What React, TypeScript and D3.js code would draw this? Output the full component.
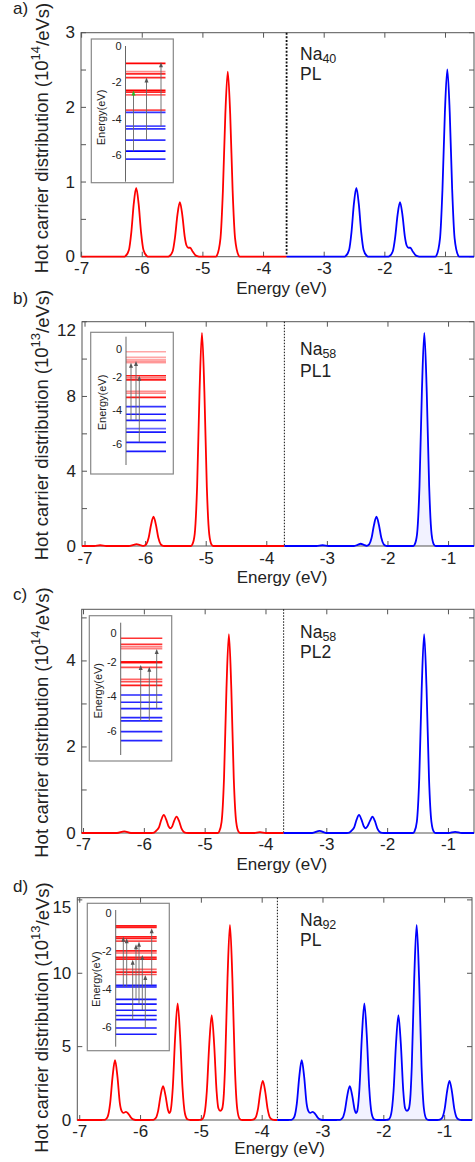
import React from 'react';
import * as d3 from 'd3';

type Pt = [number, number];

// ---------------- DATA ----------------
const panelLetters = ['a)', 'b)', 'c)', 'd)'];
const clusterSizes = ['40', '58', '58', '92'];
const plasmonLabels = ['PL', 'PL1', 'PL2', 'PL'];
const yExponents = ['14', '13', '14', '13'];
const fermiLevels = [-3.62, -3.71, -3.71, -3.75];
const xTickValues = [-7, -6, -5, -4, -3, -2, -1];
const yMajorTicks = [[0, 1, 2, 3], [0, 4, 8, 12], [0, 2, 4], [0, 5, 10, 15]];
const yMinorTicks = [[0.5, 1.5, 2.5], [2, 6, 10], [1, 3, 5], []];
const yMax = [3, 12, 5.2, 15.15];
const xDomains: [number, number][] = [[-7.01, -0.53], [-7.05, -0.58], [-7.03, -0.58], [-7.04, -0.55]];

const holesA: Pt[] = [
  [-7.0, 0], [-6.3, 0], [-6.28, 0.006], [-6.22, 0.09], [-6.18, 0.33], [-6.14, 0.71], [-6.1, 0.92], [-6.06, 0.71], [-6.02, 0.33], [-5.98, 0.09], [-5.92, 0.006], [-5.9, 0],
  [-5.58, 0], [-5.56, 0.004], [-5.5, 0.07], [-5.46, 0.26], [-5.42, 0.56], [-5.38, 0.73], [-5.34, 0.56], [-5.3, 0.27], [-5.27, 0.15], [-5.24, 0.12], [-5.21, 0.12], [-5.17, 0.07], [-5.13, 0.025], [-5.08, 0.003], [-5.05, 0],
  [-4.79, 0], [-4.77, 0.015], [-4.71, 0.25], [-4.67, 0.89], [-4.63, 1.91], [-4.59, 2.48], [-4.55, 1.91], [-4.51, 0.89], [-4.47, 0.25], [-4.41, 0.015], [-4.39, 0], [-3.62, 0],
];
const electronsA: Pt[] = [
  [-3.62, 0], [-2.67, 0], [-2.65, 0.006], [-2.59, 0.09], [-2.55, 0.33], [-2.51, 0.71], [-2.47, 0.92], [-2.43, 0.71], [-2.39, 0.33], [-2.35, 0.09], [-2.29, 0.006], [-2.27, 0],
  [-1.95, 0], [-1.93, 0.004], [-1.87, 0.07], [-1.83, 0.26], [-1.79, 0.56], [-1.75, 0.73], [-1.71, 0.56], [-1.67, 0.27], [-1.64, 0.15], [-1.61, 0.12], [-1.58, 0.12], [-1.54, 0.07], [-1.5, 0.025], [-1.45, 0.003], [-1.42, 0],
  [-1.17, 0], [-1.15, 0.015], [-1.09, 0.25], [-1.05, 0.9], [-1.01, 1.93], [-0.97, 2.51], [-0.93, 1.93], [-0.89, 0.9], [-0.85, 0.25], [-0.79, 0.015], [-0.77, 0], [-0.53, 0],
];

const holesB: Pt[] = [
  [-7.05, 0], [-6.85, 0], [-6.75, 0.04], [-6.65, 0], [-6.28, 0], [-6.2, 0.06], [-6.15, 0.1], [-6.1, 0.06], [-6.05, 0.01], [-6.03, 0.01], [-5.99, 0.09], [-5.95, 0.44], [-5.91, 1.14], [-5.87, 1.57], [-5.83, 1.14], [-5.79, 0.44], [-5.75, 0.09], [-5.71, 0.01], [-5.68, 0],
  [-5.25, 0], [-5.23, 0.07], [-5.19, 0.64], [-5.15, 3.18], [-5.11, 8.27], [-5.07, 11.4], [-5.03, 8.27], [-4.99, 3.18], [-4.95, 0.64], [-4.91, 0.07], [-4.88, 0], [-3.71, 0],
];
const electronsB: Pt[] = [
  [-3.71, 0], [-3.18, 0], [-3.08, 0.04], [-2.98, 0], [-2.56, 0], [-2.5, 0.06], [-2.45, 0.12], [-2.4, 0.06], [-2.36, 0.015], [-2.35, 0.01], [-2.31, 0.09], [-2.27, 0.44], [-2.23, 1.14], [-2.19, 1.57], [-2.15, 1.14], [-2.11, 0.44], [-2.07, 0.09], [-2.03, 0.01], [-2.0, 0],
  [-1.58, 0], [-1.56, 0.07], [-1.52, 0.64], [-1.48, 3.18], [-1.44, 8.27], [-1.4, 11.4], [-1.36, 8.27], [-1.32, 3.18], [-1.28, 0.64], [-1.24, 0.07], [-1.21, 0], [-0.58, 0],
];

const holesC: Pt[] = [
  [-7.03, 0], [-6.45, 0], [-6.33, 0.04], [-6.22, 0], [-5.88, 0], [-5.84, 0.01], [-5.8, 0.06], [-5.76, 0.13], [-5.72, 0.31], [-5.68, 0.42], [-5.64, 0.31], [-5.6, 0.15], [-5.57, 0.11], [-5.54, 0.16], [-5.51, 0.28], [-5.47, 0.38], [-5.43, 0.28], [-5.39, 0.11], [-5.35, 0.025], [-5.31, 0.003], [-5.28, 0],
  [-4.79, 0], [-4.77, 0.03], [-4.73, 0.26], [-4.69, 1.28], [-4.65, 3.35], [-4.61, 4.62], [-4.57, 3.35], [-4.53, 1.28], [-4.49, 0.26], [-4.45, 0.03], [-4.42, 0], [-4.2, 0], [-4.1, 0.02], [-4.0, 0], [-3.71, 0],
];
const electronsC: Pt[] = [
  [-3.71, 0], [-3.24, 0], [-3.12, 0.05], [-3.01, 0], [-2.67, 0], [-2.63, 0.01], [-2.59, 0.06], [-2.55, 0.13], [-2.51, 0.31], [-2.47, 0.42], [-2.43, 0.31], [-2.39, 0.15], [-2.36, 0.11], [-2.33, 0.16], [-2.29, 0.28], [-2.25, 0.38], [-2.21, 0.28], [-2.17, 0.11], [-2.13, 0.025], [-2.09, 0.003], [-2.06, 0],
  [-1.58, 0], [-1.56, 0.03], [-1.52, 0.26], [-1.48, 1.28], [-1.44, 3.35], [-1.4, 4.62], [-1.36, 3.35], [-1.32, 1.28], [-1.28, 0.26], [-1.24, 0.03], [-1.21, 0], [-1.0, 0], [-0.89, 0.025], [-0.78, 0], [-0.58, 0],
];

const holesD: Pt[] = [
  [-7.04, 0], [-6.64, 0], [-6.62, 0.005], [-6.58, 0.024], [-6.54, 0.23], [-6.5, 1.13], [-6.46, 2.96], [-6.42, 4.08], [-6.38, 2.96], [-6.34, 1.13], [-6.31, 0.6], [-6.28, 0.48], [-6.24, 0.56], [-6.2, 0.42], [-6.16, 0.18], [-6.12, 0.04], [-6.08, 0],
  [-5.85, 0], [-5.83, 0.003], [-5.79, 0.014], [-5.75, 0.13], [-5.71, 0.64], [-5.67, 1.68], [-5.63, 2.31], [-5.59, 1.68], [-5.55, 0.7], [-5.53, 0.47], [-5.51, 0.57], [-5.47, 2.2], [-5.43, 5.76], [-5.39, 7.94], [-5.35, 5.76], [-5.31, 2.2], [-5.27, 0.44], [-5.23, 0.05], [-5.18, 0],
  [-5.05, 0], [-5.03, 0.002], [-4.99, 0.04], [-4.95, 0.4], [-4.91, 1.98], [-4.87, 5.18], [-4.83, 7.14], [-4.79, 5.18], [-4.75, 1.98], [-4.72, 0.8], [-4.69, 0.62], [-4.66, 0.75], [-4.63, 1.8], [-4.61, 3.7], [-4.57, 9.66], [-4.53, 13.3], [-4.49, 9.66], [-4.45, 3.7], [-4.41, 0.75], [-4.37, 0.08], [-4.33, 0],
  [-4.19, 0], [-4.15, 0.02], [-4.11, 0.15], [-4.07, 0.74], [-4.03, 1.94], [-3.99, 2.67], [-3.95, 1.94], [-3.91, 0.74], [-3.87, 0.15], [-3.83, 0.02], [-3.79, 0], [-3.75, 0],
];
const electronsD: Pt[] = [
  [-3.75, 0], [-3.57, 0], [-3.55, 0.005], [-3.51, 0.024], [-3.47, 0.23], [-3.43, 1.13], [-3.39, 2.96], [-3.35, 4.08], [-3.31, 2.96], [-3.27, 1.13], [-3.24, 0.6], [-3.21, 0.48], [-3.17, 0.56], [-3.13, 0.42], [-3.09, 0.18], [-3.05, 0.04], [-3.01, 0],
  [-2.78, 0], [-2.76, 0.003], [-2.72, 0.014], [-2.68, 0.13], [-2.64, 0.64], [-2.6, 1.68], [-2.56, 2.31], [-2.52, 1.68], [-2.48, 0.7], [-2.46, 0.47], [-2.44, 0.57], [-2.4, 2.2], [-2.36, 5.76], [-2.32, 7.94], [-2.28, 5.76], [-2.24, 2.2], [-2.2, 0.44], [-2.16, 0.05], [-2.11, 0],
  [-1.98, 0], [-1.96, 0.002], [-1.92, 0.04], [-1.88, 0.4], [-1.84, 1.98], [-1.8, 5.18], [-1.76, 7.14], [-1.72, 5.18], [-1.68, 1.98], [-1.65, 0.8], [-1.62, 0.62], [-1.59, 0.75], [-1.56, 1.8], [-1.54, 3.7], [-1.5, 9.66], [-1.46, 13.3], [-1.42, 9.66], [-1.38, 3.7], [-1.34, 0.75], [-1.3, 0.08], [-1.26, 0],
  [-1.12, 0], [-1.08, 0.02], [-1.04, 0.15], [-1.0, 0.74], [-0.96, 1.94], [-0.92, 2.67], [-0.88, 1.94], [-0.84, 0.74], [-0.8, 0.15], [-0.76, 0.02], [-0.72, 0], [-0.55, 0],
];

const holeSeries = [holesA, holesB, holesC, holesD];
const electronSeries = [electronsA, electronsB, electronsC, electronsD];

// inset energy levels (eV)
const insetTickValues = [0, -2, -4, -6];
const unoccupiedLevels = [
  [-0.96, -1.41, -1.54, -1.74, -2.45, -2.54, -2.69, -3.54],
  [-0.52, -0.85, -1.01, -1.1, -1.17, -1.95, -2.07, -2.2, -2.88, -2.99, -3.23],
  [-0.64, -0.99, -1.13, -1.24, -2.0, -2.05, -2.32, -3.01, -3.15, -3.36],
  [-0.66, -0.73, -1.23, -1.32, -1.46, -1.98, -2.09, -2.32, -2.41, -2.96, -3.1, -3.23],
];
const occupiedLevels = [
  [-3.66, -4.42, -4.57, -5.19, -5.8, -6.24],
  [-3.79, -4.24, -4.6, -5.1, -5.3, -5.91, -6.45],
  [-3.92, -4.34, -4.71, -5.23, -5.42, -6.04, -6.56],
  [-3.8, -3.89, -4.54, -4.8, -5.12, -5.4, -5.62, -6.06, -6.39],
];
// transitions [from, to] (eV)
const transitions: Pt[][] = [
  [[-5.8, -2.45], [-5.19, -1.74], [-4.42, -0.9]],
  [[-4.6, -1.17], [-4.6, -1.07], [-5.91, -1.95]],
  [[-5.42, -2.18], [-5.42, -2.28], [-4.71, -1.26]],
  [[-3.89, -1.23], [-3.89, -1.31], [-5.62, -2.45], [-4.54, -1.63], [-4.8, -1.5], [-5.12, -2.2], [-6.06, -3.25], [-3.8, -0.78]],
];

// ---------------- STYLE / LAYOUT ----------------
const FONT = "'Liberation Sans', Arial, Helvetica, sans-serif";
const redAlpha = [
  [1, 0.45, 0.85, 0.85, 1, 0.85, 0.6, 0.7],
  [0.35, 0.35, 0.35, 0.35, 0.35, 0.9, 0.5, 0.9, 0.45, 0.45, 0.9],
  [0.8, 0.8, 0.5, 0.5, 0.9, 0.9, 0.7, 0.6, 0.7, 0.9],
  [0.9, 0.9, 0.9, 0.9, 0.7, 0.9, 0.6, 0.9, 0.9, 0.6, 0.9, 0.7],
];
const blueAlpha = [
  [0.8, 0.7, 0.8, 0.8, 1, 0.8],
  [0.8, 0.9, 0.9, 0.6, 0.9, 0.9, 0.9],
  [0.85, 0.85, 0.85, 0.85, 0.85, 0.85, 0.85],
  [0.9, 0.9, 0.9, 0.9, 0.9, 0.9, 0.9, 0.9, 0.9],
];
const arrowOffsets = [
  [8, 21, 35.5],
  [5, 10, 13.3],
  [20, 28.6, 36],
  [7.6, 11, 17, 20.3, 23.3, 26.6, 29.6, 36],
];

const LAYOUT = [
  { left: 81, right: 474, top: 32.7, bottom: 256.7, yLabelY: 138, letterY: 14, naY: 60, plY: 80, tickDy: 17.5, xLabelDy: 31.5, topLabelDy: 0, fill: false, dotW: 1.8, dotDash: '2,1.6',
    inset: { x: 91.3, y: 39, w: 82, h: 143.7, axisX: 125.5, axisTop: 46, axisBottom: 181.7, dom: [-7.48, 0], len: 40, labelX: 100.7, labelY: 117.5, zeroDy: 0 } },
  { left: 82, right: 474, top: 321.7, bottom: 546, yLabelY: 425, letterY: 304, naY: 355, plY: 376.7, tickDy: 18, xLabelDy: 31.5, topLabelDy: 8.5, fill: true, dotW: 1, dotDash: '1.5,1.5',
    inset: { x: 90.7, y: 332.3, w: 82.6, h: 141.7, axisX: 126, axisTop: 336.7, axisBottom: 465, dom: [-7.26, 0.375], len: 40, labelX: 101.7, labelY: 402.5, zeroDy: 6 } },
  { left: 81.7, right: 474, top: 609.3, bottom: 833, yLabelY: 722.5, letterY: 599.5, naY: 638.3, plY: 658.3, tickDy: 17, xLabelDy: 31.5, topLabelDy: 0, fill: false, dotW: 1, dotDash: '1.5,1.5',
    inset: { x: 89.3, y: 615.7, w: 82.4, h: 145.3, axisX: 120.7, axisTop: 622.7, axisBottom: 755, dom: [-7.39, 0.26], len: 41.6, labelX: 98.3, labelY: 690.8, zeroDy: 6 } },
  { left: 77.3, right: 472, top: 897.7, bottom: 1120, yLabelY: 1017.5, letterY: 891.5, naY: 926, plY: 946, tickDy: 16.5, xLabelDy: 28.5, topLabelDy: 8, fill: true, dotW: 1, dotDash: '1.5,1.5',
    inset: { x: 87.3, y: 903.3, w: 82, h: 147.4, axisX: 115.7, axisTop: 910, axisBottom: 1046.7, dom: [-7.05, 0.185], len: 41, labelX: 95.7, labelY: 979.2, zeroDy: 0 } },
];

const FRAME = '#555';
const TEXT = '#222';

function Inset({ i }: { i: number }) {
  const L = LAYOUT[i].inset;
  const y = d3.scaleLinear().domain(L.dom).range([L.axisBottom, L.axisTop]);
  return (
    <g>
      <rect x={L.x} y={L.y} width={L.w} height={L.h} fill="#fff" stroke="#888" strokeWidth={1.2} />
      {unoccupiedLevels[i].map((e, k) => (
        <line key={'r' + k} x1={L.axisX} x2={L.axisX + L.len} y1={y(e)} y2={y(e)} stroke="#ff0000" strokeOpacity={redAlpha[i][k]} strokeWidth={1.7} />
      ))}
      {occupiedLevels[i].map((e, k) => (
        <line key={'b' + k} x1={L.axisX} x2={L.axisX + L.len} y1={y(e)} y2={y(e)} stroke="#0000ff" strokeOpacity={blueAlpha[i][k]} strokeWidth={1.7} />
      ))}
      <line x1={L.axisX} x2={L.axisX} y1={L.axisTop} y2={L.axisBottom} stroke="#666" strokeWidth={1} />
      {insetTickValues.map((t) => (
        <text key={t} x={L.axisX - 4} y={y(t) + (t === 0 ? L.zeroDy : 0)} textAnchor="end" dominantBaseline="central" fontSize={11} fill={TEXT} fontFamily={FONT}>
          {t === 0 ? '0' : '-' + Math.abs(t)}
        </text>
      ))}
      <text transform={`translate(${L.labelX},${L.labelY}) rotate(-90)`} textAnchor="middle" dominantBaseline="central" fontSize={11} fill={TEXT} fontFamily={FONT}>
        Energy(eV)
      </text>
      {transitions[i].map(([from, to], k) => {
        const ax = L.axisX + arrowOffsets[i][k];
        const y0 = y(from);
        const y1 = y(to);
        const headColor = i === 0 && k === 0 ? '#22bb22' : '#555';
        return (
          <g key={'a' + k}>
            <line x1={ax} x2={ax} y1={y0} y2={y1 + 4} stroke="#666" strokeWidth={0.9} />
            <path d={`M${ax},${y1} L${ax - 2},${y1 + 5} L${ax + 2},${y1 + 5} Z`} fill={headColor} />
          </g>
        );
      })}
    </g>
  );
}

function Panel({ i }: { i: number }) {
  const L = LAYOUT[i];
  const x = d3.scaleLinear().domain(xDomains[i]).range([L.left, L.right]);
  const y = d3.scaleLinear().domain([0, yMax[i]]).range([L.bottom, L.top]);
  const line = d3.line<Pt>().x((d) => x(d[0])).y((d) => y(d[1])).curve(d3.curveMonotoneX);
  const area = d3.area<Pt>().x((d) => x(d[0])).y0(y(0)).y1((d) => y(d[1])).curve(d3.curveMonotoneX);
  const tl = 5;
  const yTicksAll = [...yMajorTicks[i], ...yMinorTicks[i]];
  const topMajor = yMajorTicks[i][yMajorTicks[i].length - 1];
  return (
    <g fontFamily={FONT}>
      {L.fill && <path d={area(electronSeries[i]) || ''} fill="#0000ff" fillOpacity={0.05} stroke="none" />}
      {/* frame */}
      <rect x={L.left} y={L.top} width={L.right - L.left} height={L.bottom - L.top} fill="none" stroke={FRAME} strokeWidth={1} />
      {xTickValues.map((t) => (
        <g key={'xt' + t}>
          <line x1={x(t)} x2={x(t)} y1={L.bottom} y2={L.bottom - tl} stroke={FRAME} />
          <line x1={x(t)} x2={x(t)} y1={L.top} y2={L.top + tl} stroke={FRAME} />
          <text x={x(t)} y={L.bottom + L.tickDy} textAnchor="middle" fontSize={17} fill={TEXT}>{'-' + Math.abs(t)}</text>
        </g>
      ))}
      {yTicksAll.map((t) => (
        <g key={'yt' + t}>
          <line x1={L.left} x2={L.left + tl} y1={y(t)} y2={y(t)} stroke={FRAME} />
          <line x1={L.right} x2={L.right - tl} y1={y(t)} y2={y(t)} stroke={FRAME} />
        </g>
      ))}
      {yMajorTicks[i].map((t) => (
        <text key={'yl' + t} x={L.left - 6} y={y(t) + (t === topMajor ? L.topLabelDy : 0)} textAnchor="end" dominantBaseline="central" fontSize={17} fill={TEXT}>
          {t}
        </text>
      ))}
      <text x={(L.left + 474) / 2 + 4} y={L.bottom + L.xLabelDy} textAnchor="middle" dominantBaseline="central" fontSize={17} fill={TEXT}>
        Energy (eV)
      </text>
      <text transform={`translate(41.7,${L.yLabelY}) rotate(-90)`} textAnchor="middle" dominantBaseline="central" fontSize={18.5} fill={TEXT}>
        Hot carrier distribution (10
        <tspan fontSize={13} dy={-7}>{yExponents[i]}</tspan>
        <tspan dy={7}>/eVs)</tspan>
      </text>
      <text x={13} y={L.letterY} fontSize={17} fill={TEXT}>{panelLetters[i]}</text>
      {/* fermi level */}
      <line x1={x(fermiLevels[i])} x2={x(fermiLevels[i])} y1={L.top} y2={L.bottom} stroke="#111" strokeWidth={L.dotW} strokeDasharray={L.dotDash} />
      {/* curves */}
      <path d={line(holeSeries[i]) || ''} fill="none" stroke="#ff0000" strokeWidth={1.8} />
      <path d={line(electronSeries[i]) || ''} fill="none" stroke="#0000ff" strokeWidth={1.8} />
      {/* labels */}
      <text x={300} y={L.naY} fontSize={17.5} fill={TEXT}>
        Na<tspan fontSize={12.5} dy={2.5}>{clusterSizes[i]}</tspan>
      </text>
      <text x={300} y={L.plY} fontSize={17.5} fill={TEXT}>{plasmonLabels[i]}</text>
      <Inset i={i} />
    </g>
  );
}

export default function App() {
  return (
    <svg width={475} height={1162} viewBox="0 0 475 1162" style={{ position: 'absolute', left: 0, top: 0, display: 'block', background: '#fff' }}>
      {LAYOUT.map((_, i) => (
        <Panel key={i} i={i} />
      ))}
    </svg>
  );
}
